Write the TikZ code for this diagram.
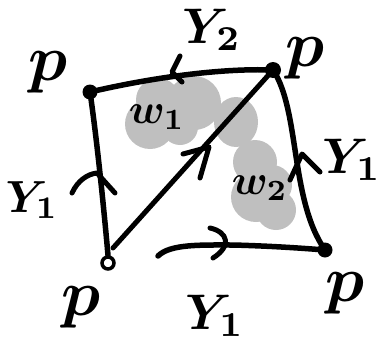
\documentclass[tikz,border=0pt]{standalone}
\begin{document}
\begin{tikzpicture}[x=1pt,y=-1pt,
  edge/.style={line width=5.5pt,line cap=round,line join=round},
  chev/.style={line width=5pt,line cap=round,line join=round},
  blob/.style={fill=black!25,draw=none},
  vert/.style={circle,fill=black,inner sep=0pt,minimum size=15pt},
  lbl/.style={inner sep=0pt,scale=6.5,font=\boldmath},
  ylbl/.style={inner sep=0pt,scale=5,font=\boldmath},
  wlbl/.style={inner sep=0pt,scale=4.2,font=\boldmath}]
\useasboundingbox (0,0) rectangle (380,348);
% grey regions
\fill[blob] (150,124) circle[radius=25];
\fill[blob] (158,100) circle[radius=22];
\fill[blob] (194,103) circle[radius=27];
\fill[blob] (180,127) circle[radius=18];
\fill[blob] (236,122) ellipse[x radius=22,y radius=25];
\fill[blob] (255,162) circle[radius=22];
\fill[blob] (256,197) circle[radius=25];
\fill[blob] (276,210) circle[radius=20];
\fill[blob] (272,185) circle[radius=20];
% vertices
\node[vert] (A) at (90,92) {};
\node[vert,minimum size=16pt] (B) at (273,70) {};
\node[vert] (C) at (325,250) {};
\node[circle,draw,line width=3.5pt,inner sep=0pt,minimum size=12pt] (D) at (108,263) {};
\coordinate (S) at (158,256);
% edges
\draw[edge] (A.center) .. controls (150,78) and (220,68) .. (B.center);
\draw[edge] (A.center) .. controls (97,140) and (104,210) .. (D.north);
\draw[edge] (B.center) .. controls (300,110) and (290,200) .. (C.center);
\draw[edge] (S) .. controls (170,244) and (200,245) .. (233,245) .. controls (270,246) and (300,248) .. (C.center);
\draw[line width=5pt,line cap=round] (113,248) -- (B.center);
% arrow marks
\draw[chev] (180,56) -- (172,72) -- (182,82);
\draw[chev] (72,193) .. controls (78,180) and (88,174) .. (97,173) -- (115,193);
\draw[chev] (290,180) -- (302,154) -- (320,172);
\draw[chev] (210,228) .. controls (228,232) and (232,246) .. (213,258);
\draw[chev] (183,154) -- (209,147) -- (200,178);
% labels
\node[lbl] (p1) at (48,72) {$p$};
\node[lbl] (p2) at (305,58) {$p$};
\node[lbl] (p3) at (81,307) {$p$};
\node[lbl] (p4) at (345,293) {$p$};
\node[ylbl] (y2) at (212,30) {$Y_2$};
\node[ylbl,scale=0.9] (y1a) at (32,200) {$Y_1$};
\node[ylbl] (y1b) at (352,160) {$Y_1$};
\node[ylbl] (y1c) at (215,316) {$Y_1$};
\node[wlbl] (w1) at (157,117) {$w_1$};
\node[wlbl] (w2) at (260,188) {$w_2$};
\end{tikzpicture}
\end{document}
